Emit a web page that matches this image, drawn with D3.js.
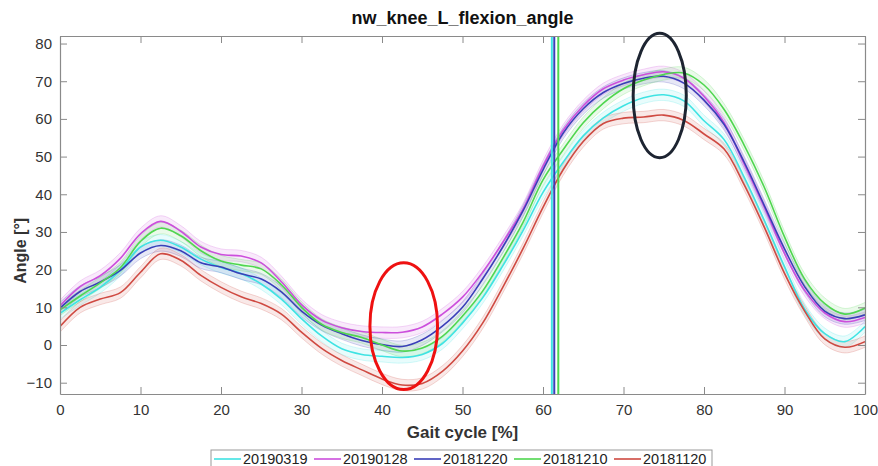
<!DOCTYPE html>
<html>
<head>
<meta charset="utf-8">
<script src="https://cdn.jsdelivr.net/npm/d3@7"></script>
<style>
  body { margin: 0; background: #fff; }
  text { font-family: "Liberation Sans", Arial, Helvetica, sans-serif; }
</style>
</head>
<body>
<div id="chart"></div>
<script>
// gait cycle samples (%)
var gaitPct = [0, 2.5, 5, 7.5, 10, 12.5, 15, 17.5, 20, 22.5, 25, 27.5, 30, 32.5, 35, 37.5, 40,
  42.5, 45, 47.5, 50, 52.5, 55, 57.5, 60, 62.5, 65, 67.5, 70, 72.5, 75, 77.5, 80, 82.5, 85,
  87.5, 90, 92.5, 95, 97.5, 100];

var sessions = ["20190319", "20190128", "20181220", "20181210", "20181120"];
var colors = ["#3fe3e3", "#cc4fdc", "#3a3fb8", "#4fd64f", "#cf4a42"];

var s20190319 = [8.4, 12.0, 15.3, 19.8, 26.0, 27.8, 26.0, 22.8, 20.6, 19.0, 16.2, 12.2, 7.0, 2.4, -1.0, -2.5, -3.0,
  -3.3, -2.5, 0.4, 5.8, 12.5, 21.0, 30.3, 40.5, 48.5, 55.5, 60.3, 63.5, 65.6, 66.4, 64.8, 59.5, 54.5, 44.5,
  33.0, 20.8, 9.5, 3.0, 0.9, 4.9];
var s20190128 = [10.4, 15.5, 18.4, 23.0, 29.5, 32.8, 30.2, 26.0, 24.0, 23.6, 21.8, 16.8, 10.7, 6.6, 4.6, 3.6, 3.3,
  3.4, 4.8, 8.2, 12.7, 19.3, 27.2, 36.0, 47.5, 57.0, 63.5, 68.0, 70.3, 71.7, 72.5, 70.8, 66.0, 59.0, 48.0,
  36.5, 24.3, 14.5, 8.5, 6.2, 7.3];
var s20181220 = [9.8, 14.2, 16.7, 19.8, 24.4, 26.4, 25.0, 21.8, 20.7, 18.9, 17.5, 14.1, 9.0, 5.3, 3.0, 1.2, 0.1,
  -0.4, 1.4, 5.0, 10.0, 17.5, 26.0, 35.5, 46.5, 56.2, 62.7, 67.0, 69.4, 70.8, 71.3, 69.5, 65.0, 58.5, 48.5,
  37.0, 25.5, 15.5, 9.0, 7.0, 8.0];
var s20181210 = [9.3, 13.0, 16.5, 20.5, 27.5, 31.0, 29.0, 25.0, 22.3, 21.2, 20.2, 16.0, 10.0, 5.5, 3.3, 2.0, 0.0,
  -1.6, -0.8, 2.3, 7.7, 14.3, 23.0, 32.5, 43.8, 51.8, 59.0, 64.2, 68.0, 70.3, 71.8, 72.2, 69.0, 62.5, 53.0,
  41.8, 28.7, 17.5, 11.0, 8.2, 9.8];
var s20181120 = [4.9, 10.0, 12.2, 13.9, 19.3, 24.2, 22.5, 18.5, 15.3, 12.8, 11.0, 8.2, 3.4, -0.9, -4.1, -6.6, -9.0,
  -10.6, -10.2, -7.0, -1.6, 5.8, 15.3, 25.5, 36.5, 46.5, 54.0, 58.8, 60.2, 60.5, 61.0, 59.6, 56.0, 52.0, 42.5,
  31.2, 19.0, 9.0, 1.6, -0.6, 0.9];
var seriesValues = [s20190319, s20190128, s20181220, s20181210, s20181120];

// standard deviation band half width (deg)
var bandSd = [1.5, 1.5, 1.5, 1.5, 1.5];
// toe-off (%), null where no line is visible
var toeOff = [61.1, null, 61.4, 61.9, null];

var xTicks = [0, 10, 20, 30, 40, 50, 60, 70, 80, 90, 100];
var yTicks = [-10, 0, 10, 20, 30, 40, 50, 60, 70, 80];

// annotation ellipses, in data units: [cx, cy, rx, ry]
var redMark = [42.7, 5.0, 4.2, 16.8];
var darkMark = [74.5, 66.2, 3.3, 16.5];

var W = 878, H = 466;
var margin = {top: 36, right: 13, bottom: 72, left: 60};
var width = W - margin.left - margin.right;
var height = H - margin.top - margin.bottom;

var svg = d3.select("#chart").append("svg")
  .attr("width", W)
  .attr("height", H);

var g = svg.append("g")
  .attr("transform", "translate(" + margin.left + "," + margin.top + ")");

var xScale = d3.scaleLinear().domain([0, 100]).range([0, width]);
var yScale = d3.scaleLinear().domain([-13, 82]).range([height, 0]);

g.append("defs").append("clipPath").attr("id", "plotClip")
  .append("rect").attr("width", width).attr("height", height);

var plot = g.append("g").attr("clip-path", "url(#plotClip)");

var line = d3.line()
  .x(function(d, i) { return xScale(gaitPct[i]); })
  .y(function(d) { return yScale(d); })
  .curve(d3.curveCatmullRom.alpha(0.5));

var area = d3.area()
  .x(function(d, i) { return xScale(gaitPct[i]); })
  .y0(function(d) { return yScale(d.lo); })
  .y1(function(d) { return yScale(d.hi); })
  .curve(d3.curveCatmullRom.alpha(0.5));

// shaded bands
var i;
for (i = 0; i < sessions.length; i++) {
  var band = seriesValues[i].map(function(v) { return {lo: v - bandSd[i], hi: v + bandSd[i]}; });
  plot.append("path")
    .datum(band)
    .attr("fill", colors[i])
    .attr("fill-opacity", 0.12)
    .attr("d", area);
  var lo = seriesValues[i].map(function(v) { return v - bandSd[i]; });
  var hi = seriesValues[i].map(function(v) { return v + bandSd[i]; });
  [lo, hi].forEach(function(edge) {
    plot.append("path").datum(edge)
      .attr("fill", "none").attr("stroke", colors[i])
      .attr("stroke-opacity", 0.22).attr("stroke-width", 1)
      .attr("d", line);
  });
}

// mean curves
for (i = 0; i < sessions.length; i++) {
  plot.append("path")
    .datum(seriesValues[i])
    .attr("fill", "none")
    .attr("stroke", colors[i])
    .attr("stroke-width", 1.6)
    .attr("d", line);
}

// toe-off lines
for (i = 0; i < sessions.length; i++) {
  if (toeOff[i] == null) continue;
  plot.append("line")
    .attr("x1", xScale(toeOff[i])).attr("x2", xScale(toeOff[i]))
    .attr("y1", 0).attr("y2", height)
    .attr("stroke", colors[i])
    .attr("stroke-width", 2);
}

// axes box
var axisColor = "#8a8a8a";
var tickLen = 7;
var xAxis = g.append("g")
  .attr("transform", "translate(0," + height + ")")
  .call(d3.axisBottom(xScale).tickValues(xTicks).tickSizeInner(-tickLen).tickSizeOuter(0).tickPadding(10));
var xTop = g.append("g")
  .call(d3.axisTop(xScale).tickValues(xTicks).tickSizeInner(-tickLen).tickSizeOuter(0).tickFormat(""));
var yAxis = g.append("g")
  .call(d3.axisLeft(yScale).tickValues(yTicks).tickSizeInner(-tickLen).tickSizeOuter(0).tickPadding(8));
var yRight = g.append("g")
  .attr("transform", "translate(" + width + ",0)")
  .call(d3.axisRight(yScale).tickValues(yTicks).tickSizeInner(-tickLen).tickSizeOuter(0).tickFormat(""));

[xAxis, xTop, yAxis, yRight].forEach(function(a) {
  a.select(".domain").attr("stroke", axisColor).attr("stroke-width", 1.2);
  a.selectAll(".tick line").attr("stroke", axisColor);
  a.selectAll(".tick text")
    .attr("fill", "#333")
    .style("font-size", "15px")
    .style("font-family", '"Liberation Sans", Arial, sans-serif');
});

// annotation ellipses
function drawMark(m, color) {
  g.append("ellipse")
    .attr("cx", xScale(m[0]))
    .attr("cy", yScale(m[1]))
    .attr("rx", xScale(m[2]) - xScale(0))
    .attr("ry", yScale(0) - yScale(m[3]))
    .attr("fill", "none")
    .attr("stroke", color)
    .attr("stroke-width", 3);
}
drawMark(redMark, "#ee1111");
drawMark(darkMark, "#1d2431");

// titles
svg.append("text")
  .attr("x", margin.left + width / 2)
  .attr("y", 24)
  .attr("text-anchor", "middle")
  .style("font-size", "18px")
  .style("font-weight", "bold")
  .attr("fill", "#111")
  .text("nw_knee_L_flexion_angle");

svg.append("text")
  .attr("x", margin.left + width / 2)
  .attr("y", 438)
  .attr("text-anchor", "middle")
  .style("font-size", "17px")
  .style("font-weight", "bold")
  .attr("fill", "#333")
  .text("Gait cycle [%]");

svg.append("text")
  .attr("transform", "translate(26," + (margin.top + yScale(25)) + ") rotate(-90)")
  .attr("text-anchor", "middle")
  .style("font-size", "16px")
  .style("font-weight", "bold")
  .attr("fill", "#333")
  .text("Angle [°]");

// legend
var legend = svg.append("g").attr("transform", "translate(211,450)");
legend.append("rect")
  .attr("width", 501).attr("height", 22)
  .attr("fill", "#fff")
  .attr("stroke", "#999");
for (i = 0; i < sessions.length; i++) {
  var item = legend.append("g").attr("transform", "translate(" + (i * 100) + ",0)");
  item.append("line")
    .attr("x1", 3).attr("x2", 30).attr("y1", 9).attr("y2", 9)
    .attr("stroke", colors[i]).attr("stroke-width", 1.6);
  item.append("text")
    .attr("x", 32).attr("y", 14)
    .style("font-size", "14.5px")
    .attr("fill", "#222")
    .text(sessions[i]);
}
</script>
</body>
</html>
